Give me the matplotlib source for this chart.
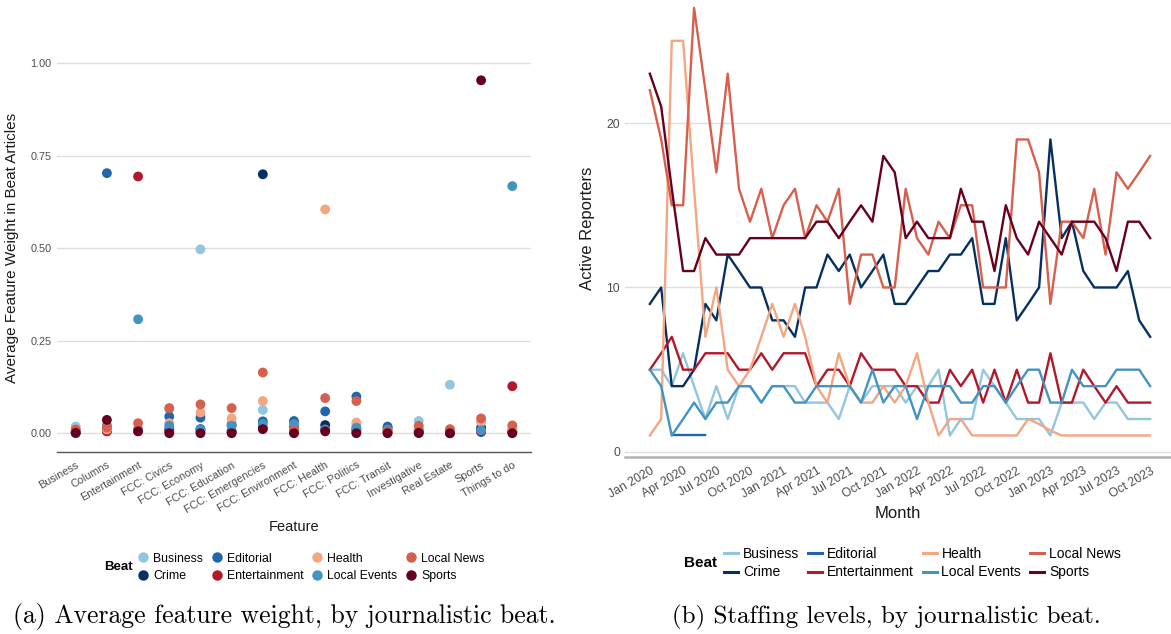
import matplotlib
matplotlib.use("Agg")
import matplotlib.pyplot as plt
import matplotlib.dates as mdates
from matplotlib.lines import Line2D
import numpy as np
import pandas as pd

plt.rcParams['font.family'] = ['Liberation Sans', 'DejaVu Sans']

beats = ['Business', 'Crime', 'Editorial', 'Entertainment', 'Health',
         'Local Events', 'Local News', 'Sports']
colors = ['#92c5de', '#053061', '#2166ac', '#b2182b', '#f4a582',
          '#4393c3', '#d6604d', '#67001f']

# ---------- left panel: average feature weight per beat ----------
features = ['Business', 'Columns', 'Entertainment', 'FCC: Civics', 'FCC: Economy',
            'FCC: Education', 'FCC: Emergencies', 'FCC: Environment', 'FCC: Health',
            'FCC: Politics', 'FCC: Transit', 'Investigative', 'Real Estate',
            'Sports', 'Things to do']

w_business = [0.018, 0.022, 0.008, 0.065, 0.497, 0.027, 0.063, 0.010, 0.010, 0.022, 0.005, 0.033, 0.131, 0.005, 0.010]
w_crime = [0.002, 0.006, 0.006, 0.011, 0.011, 0.005, 0.700, 0.015, 0.022, 0.011, 0.014, 0.009, 0.002, 0.015, 0.005]
w_editorial = [0.000, 0.703, 0.010, 0.045, 0.042, 0.022, 0.032, 0.033, 0.059, 0.099, 0.018, 0.000, 0.000, 0.003, 0.003]
w_entertainment = [0.003, 0.005, 0.694, 0.005, 0.005, 0.003, 0.015, 0.003, 0.010, 0.005, 0.002, 0.003, 0.001, 0.005, 0.127]
w_health = [0.008, 0.010, 0.006, 0.027, 0.056, 0.040, 0.087, 0.010, 0.605, 0.029, 0.005, 0.012, 0.008, 0.030, 0.010]
w_local_events = [0.002, 0.020, 0.308, 0.020, 0.010, 0.020, 0.025, 0.025, 0.010, 0.015, 0.010, 0.003, 0.002, 0.008, 0.668]
w_local_news = [0.010, 0.015, 0.027, 0.068, 0.078, 0.068, 0.164, 0.008, 0.095, 0.087, 0.005, 0.020, 0.011, 0.040, 0.021]
w_sports = [0.001, 0.036, 0.005, 0.000, 0.000, 0.000, 0.011, 0.000, 0.005, 0.000, 0.000, 0.001, 0.000, 0.954, 0.000]

weights = [w_business, w_crime, w_editorial, w_entertainment, w_health,
           w_local_events, w_local_news, w_sports]

# ---------- right panel: active reporters per month ----------
months = pd.date_range('2020-01-01', '2023-10-01', freq='MS')

n_business = [5, 5, 4, 6, 4, 2, 4, 2, 4, 4, 3, 4, 4, 4, 3, 3, 3, 2, 4,
              3, 4, 4, 4, 3, 4, 4, 5, 1, 2, 2, 5, 4, 3, 2, 2, 2, 1, 3, 3, 3, 2, 3, 3, 2, 2, 2]
n_crime = [9, 10, 4, 4, 5, 9, 8, 12, 11, 10, 10, 8, 8, 7, 10, 10, 12, 11, 12, 10,
           11, 12, 9, 9, 10, 11, 11, 12, 12, 13, 9, 9, 13, 8, 9, 10, 19, 13, 14, 11, 10, 10, 10, 11, 8, 7]
n_editorial = [np.nan, np.nan, 1, 1, 1, 1] + [np.nan] * 40
n_entertainment = [5, 6, 7, 5, 5, 6, 6, 6, 5, 5, 6, 5, 6, 6, 6, 4, 5, 5, 4,
                   6, 5, 5, 5, 4, 4, 3, 3, 5, 4, 5, 3, 5, 3, 5, 3, 3, 6, 3, 3, 5, 4, 3, 4, 3, 3, 3]
n_health = [1, 2, 25, 25, 16, 7, 10, 5, 4, 5, 7, 9, 7, 9, 7, 4, 3, 6, 4,
            3, 3, 4, 3, 4, 6, 3, 1, 2, 2, 1, 1, 1, 1, 1, 2, 1.7, 1.3, 1, 1, 1, 1, 1, 1, 1, 1, 1]
n_local_events = [5, 4, 1, 2, 3, 2, 3, 3, 4, 4, 3, 4, 4, 3, 3, 4, 4, 4, 4,
                  3, 5, 3, 4, 4, 2, 4, 4, 4, 3, 3, 4, 4, 3, 4, 5, 5, 3, 3, 5, 4, 4, 4, 5, 5, 5, 4]
n_local_news = [22, 19, 15, 15, 27, 22, 17, 23, 16, 14, 16, 13, 15, 16, 13, 15, 14, 16, 9,
                12, 12, 10, 10, 16, 13, 12, 14, 13, 15, 15, 10, 10, 10, 19, 19, 17, 9, 14, 14, 13, 16, 12, 17, 16, 17, 18]
n_sports = [23, 21, 16, 11, 11, 13, 12, 12, 12, 13, 13, 13, 13, 13, 13, 14, 14, 13, 14,
            15, 14, 18, 17, 13, 14, 13, 13, 13, 16, 14, 14, 11, 15, 13, 12, 14, 13, 12, 14, 14, 14, 13, 11, 14, 14, 13]

staffing = [n_business, n_crime, n_editorial, n_entertainment, n_health,
            n_local_events, n_local_news, n_sports]

W, H = 1171, 634
fig = plt.figure(figsize=(W / 100, H / 100), dpi=100)

tick_col = '#4d4d4d'
grid_col = '#dedede'

# left panel
ax1 = fig.add_axes([57 / W, 1 - 451.7 / H, 474 / W, (451.7 - 44.8) / H])
x = np.arange(len(features))
for beat, col, vals in zip(beats, colors, weights):
    ax1.scatter(x, vals, s=50, color=col, edgecolors='none', zorder=3, label=beat)
ax1.set_xlim(-0.6, len(features) - 0.4)
ax1.set_ylim(-0.05, 1.05)
ax1.set_yticks([0, 0.25, 0.5, 0.75, 1.0])
ax1.set_yticklabels(['0.00', '0.25', '0.50', '0.75', '1.00'])
ax1.yaxis.grid(True, color=grid_col, lw=1.0)
ax1.set_axisbelow(True)
ax1.set_xticks(x)
ax1.set_xticklabels(features, rotation=30, ha='right', rotation_mode='anchor')
ax1.tick_params(axis='both', length=0, colors=tick_col, labelsize=7.8)
ax1.tick_params(axis='x', pad=6)
ax1.tick_params(axis='y', pad=4)
for s in ['top', 'right', 'left']:
    ax1.spines[s].set_visible(False)
ax1.spines['bottom'].set_color('#555555')
ax1.spines['bottom'].set_linewidth(1.0)
ax1.set_ylabel('Average Feature Weight in Beat Articles', fontsize=11, color='#1a1a1a', labelpad=8)
ax1.set_xlabel('Feature', fontsize=10.5, color='#1a1a1a', labelpad=4)

# right panel
ax2 = fig.add_axes([625 / W, 1 - 456.7 / H, 546 / W, 456.7 / H])
for beat, col, vals in zip(beats, colors, staffing):
    ax2.plot(months, vals, color=col, lw=1.7, label=beat, zorder=3)
ax2.set_xlim(months[0] - pd.Timedelta(days=68), months[-1] + pd.Timedelta(days=57))
ax2.set_ylim(-0.29, 27.48)
ax2.set_yticks([0, 10, 20])
ax2.yaxis.grid(True, color=grid_col, lw=1.0)
ax2.set_axisbelow(True)
ax2.xaxis.set_major_locator(mdates.MonthLocator(bymonth=[1, 4, 7, 10]))
ax2.xaxis.set_major_formatter(mdates.DateFormatter('%b %Y'))
for lab in ax2.get_xticklabels():
    lab.set_rotation(30)
    lab.set_ha('right')
    lab.set_rotation_mode('anchor')
ax2.tick_params(axis='both', length=0, colors=tick_col, labelsize=8.8)
ax2.tick_params(axis='x', pad=6)
for s in ['top', 'right', 'left']:
    ax2.spines[s].set_visible(False)
ax2.spines['bottom'].set_color('#b3b3b3')
ax2.spines['bottom'].set_linewidth(1.8)
ax2.set_ylabel('Active Reporters', fontsize=12, color='#1a1a1a', labelpad=8)
ax2.set_xlabel('Month', fontsize=12, color='#1a1a1a', labelpad=4)

# legends
h1 = [Line2D([], [], marker='o', ls='none', color=c, markersize=7.5, markeredgewidth=0) for c in colors]
fig.legend(h1, beats, ncol=4, loc='center left', bbox_to_anchor=(137 / W, 1 - 567.5 / H),
           frameon=False, fontsize=8.8, handlelength=1.0, handletextpad=0.3,
           columnspacing=0.65, labelspacing=0.45, borderaxespad=0, borderpad=0)
fig.text(104 / W, 1 - 567 / H, 'Beat', fontsize=9.5, fontweight='bold', va='center', ha='left')

h2 = [Line2D([], [], color=c, lw=2.2) for c in colors]
fig.legend(h2, beats, ncol=4, loc='center left', bbox_to_anchor=(724 / W, 1 - 563 / H),
           frameon=False, fontsize=10, handlelength=1.0, handletextpad=0.35,
           columnspacing=0.65, labelspacing=0.35, borderaxespad=0, borderpad=0)
fig.text(684 / W, 1 - 563 / H, 'Beat', fontsize=11, fontweight='bold', va='center', ha='left')

# captions
fig.text(284 / W, 1 - 617 / H, '(a) Average feature weight, by journalistic beat.',
         family='cmr10', fontsize=18.5, ha='center', va='center')
fig.text(886 / W, 1 - 617 / H, '(b) Staffing levels, by journalistic beat.',
         family='cmr10', fontsize=18, ha='center', va='center')

fig.savefig('out.png', dpi=100)
